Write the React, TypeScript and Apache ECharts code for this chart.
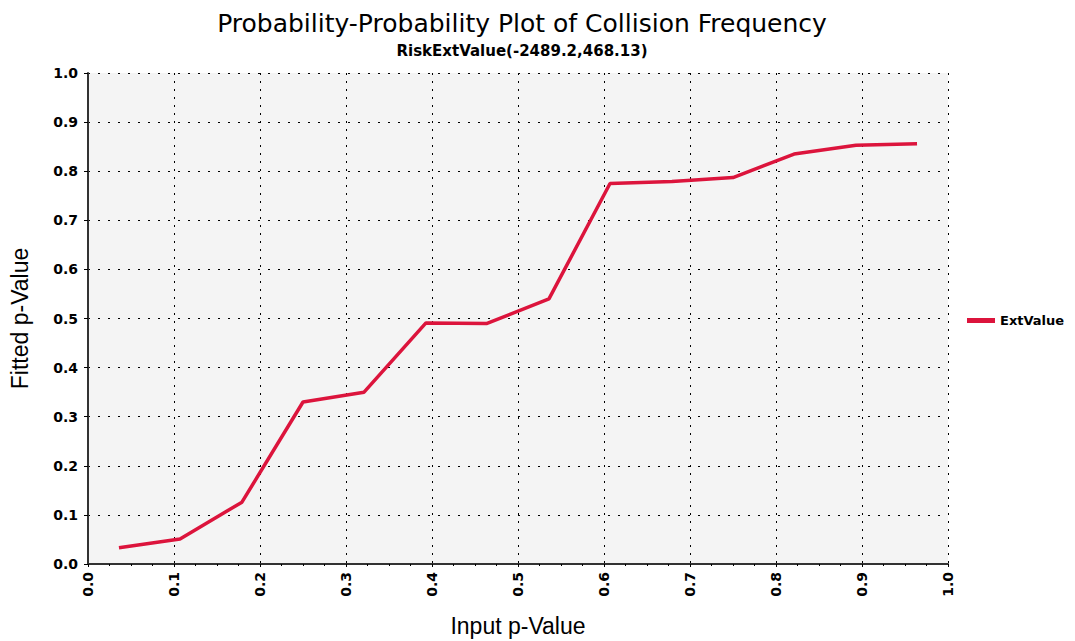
import React, { useEffect, useRef } from "react";
import * as echarts from "echarts";

const inputP = [0.036, 0.107, 0.179, 0.25, 0.321, 0.393, 0.464, 0.536, 0.607, 0.679, 0.75, 0.821, 0.893, 0.964];
const fittedP = [0.033, 0.051, 0.126, 0.33, 0.35, 0.491, 0.49, 0.54, 0.775, 0.779, 0.787, 0.835, 0.853, 0.856];
const seriesName = "ExtValue";
const titleText = "Probability-Probability Plot of Collision Frequency";
const subtitleText = "RiskExtValue(-2489.2,468.13)";

export default function App() {
  const ref = useRef<HTMLDivElement>(null);
  useEffect(() => {
    if (!ref.current) return;
    const chart = echarts.init(ref.current, null, { renderer: "svg" });
    const font = "Liberation Sans";
    const wide = "DejaVu Sans";
    chart.setOption({
      animation: false,
      backgroundColor: "#ffffff",
      title: {
        text: titleText,
        subtext: subtitleText,
        left: 517,
        textAlign: "center",
        top: 6,
        itemGap: 7,
        textStyle: { fontFamily: wide, fontSize: 25, fontWeight: "normal", color: "#000" },
        subtextStyle: { fontFamily: wide, fontSize: 15, fontWeight: "bold", color: "#000" },
      },
      legend: {
        data: [{ name: seriesName }],
        orient: "vertical",
        left: 962,
        top: 309,
        itemWidth: 28,
        itemHeight: 5,
        itemGap: 6,
        icon: "rect",
        textStyle: { fontFamily: wide, fontSize: 13, fontWeight: "bold", color: "#000" },
      },
      grid: {
        left: 88,
        right: 127,
        top: 73,
        bottom: 77,
        show: true,
        backgroundColor: "#f4f4f4",
        borderWidth: 0,
        outerBoundsMode: "none",
        containLabel: false,
      },
      xAxis: {
        type: "value",
        min: 0,
        max: 1,
        interval: 0.1,
        name: "Input p-Value",
        nameLocation: "middle",
        nameGap: 50,
        nameTextStyle: { fontFamily: font, fontSize: 23, color: "#000" },
        axisLine: { show: true, lineStyle: { color: "#333", width: 2 } },
        axisTick: { show: true, length: 3, lineStyle: { color: "#000" } },
        minorTick: { show: true, splitNumber: 4, length: 2, lineStyle: { color: "#000" } },
        axisLabel: {
          rotate: 90,
          fontFamily: wide,
          fontSize: 14,
          fontWeight: "bold",
          color: "#000",
          margin: 8,
          formatter: (v: number) => v.toFixed(1),
        },
        splitLine: { show: true, lineStyle: { color: "#000", width: 1, type: [2, 6] } },
      },
      yAxis: {
        type: "value",
        min: 0,
        max: 1,
        interval: 0.1,
        name: "Fitted p-Value",
        nameLocation: "middle",
        nameGap: 57,
        nameTextStyle: { fontFamily: font, fontSize: 23, color: "#000" },
        axisLine: { show: true, lineStyle: { color: "#333", width: 2 } },
        axisTick: { show: true, length: 4, lineStyle: { color: "#000" } },
        axisLabel: {
          fontFamily: wide,
          fontSize: 14,
          fontWeight: "bold",
          color: "#000",
          margin: 10,
          formatter: (v: number) => v.toFixed(1),
        },
        splitLine: { show: true, lineStyle: { color: "#000", width: 1, type: [2, 8] } },
      },
      series: [
        {
          name: seriesName,
          type: "line",
          data: inputP.map((x, i) => [x, fittedP[i]]),
          showSymbol: false,
          symbol: "none",
          lineStyle: { color: "#dc143c", width: 3.5 },
          itemStyle: { color: "#dc143c" },
        },
      ],
    });
    return () => chart.dispose();
  }, []);
  return <div ref={ref} style={{ position: "fixed", left: 0, top: 0, width: 1075, height: 641 }} />;
}
